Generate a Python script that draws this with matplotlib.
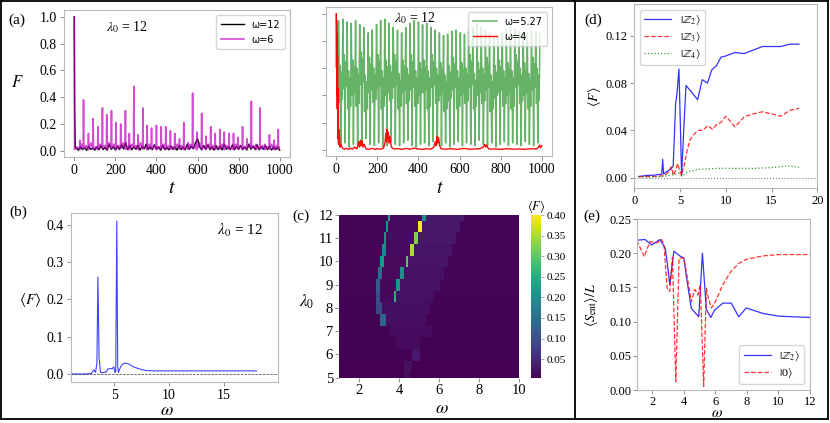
import numpy as np
import matplotlib
matplotlib.use('Agg')
import matplotlib.pyplot as plt
from matplotlib.lines import Line2D

plt.rcParams['font.family'] = ['Liberation Serif', 'DejaVu Serif']
plt.rcParams['mathtext.fontset'] = 'stix'

W, H = 830, 423

# ---------------- data ----------------
# (a) left: omega=6 spikes (magenta) and omega=12 (black)
mag_spike_t = [0, 27, 45, 69, 92, 115, 137, 158, 181, 203, 226, 249, 268, 290, 311, 334, 355, 376, 400, 423,
               445, 468, 489, 512, 533, 555, 576, 597, 620, 641, 664, 686, 709, 730, 753, 775, 796, 819, 840, 862,
               885, 904, 929, 950, 972, 993]
mag_spike_F = [1.0, 0.08, 0.38, 0.13, 0.24, 0.18, 0.32, 0.27, 0.30, 0.21, 0.20, 0.30, 0.13, 0.48, 0.12, 0.32, 0.19, 0.17, 0.19, 0.18,
               0.18, 0.15, 0.13, 0.09, 0.21, 0.06, 0.43, 0.14, 0.28, 0.11, 0.18, 0.13, 0.16, 0.14, 0.13, 0.13, 0.10, 0.18, 0.09, 0.37,
               0.05, 0.32, 0.05, 0.12, 0.08, 0.16]
mag_floor = [0.01, 0.01, 0.02, 0.01, 0.015, 0.01, 0.02, 0.01, 0.015, 0.01, 0.02, 0.012, 0.01, 0.02, 0.01, 0.015, 0.01, 0.012, 0.01, 0.015,
             0.01, 0.012, 0.01, 0.015, 0.01, 0.012, 0.02, 0.01, 0.015, 0.01, 0.012, 0.01, 0.015, 0.01, 0.012, 0.01, 0.015, 0.01, 0.012, 0.02,
             0.01, 0.015, 0.01, 0.012, 0.01, 0.015]
mag_mid = [0.03, 0.05, 0.04, 0.06, 0.03, 0.05, 0.04, 0.06, 0.05, 0.04, 0.06, 0.03, 0.05, 0.04, 0.06, 0.03, 0.05, 0.04, 0.03, 0.05,
           0.04, 0.03, 0.05, 0.04, 0.03, 0.05, 0.04, 0.06, 0.03, 0.05, 0.04, 0.03, 0.05, 0.04, 0.03, 0.05, 0.04, 0.03, 0.05, 0.04,
           0.03, 0.04, 0.03, 0.05, 0.04, 0.03]
blk_t0 = [0, 2, 5]
blk_F0 = [1.0, 0.26, 0.02]
blk_F = [0.02, 0.005, 0.03, 0.01, 0.025, 0.004, 0.035, 0.012, 0.02, 0.006,
         0.03, 0.008, 0.04, 0.01, 0.025, 0.005, 0.05, 0.012, 0.03, 0.007,
         0.035, 0.01, 0.045, 0.015, 0.06, 0.01, 0.04, 0.008, 0.03, 0.012,
         0.04, 0.006, 0.035, 0.015, 0.05, 0.01, 0.03, 0.008, 0.045, 0.012,
         0.03, 0.005, 0.04, 0.01, 0.025, 0.008, 0.035, 0.012, 0.03, 0.006,
         0.04, 0.01, 0.03, 0.008, 0.05, 0.012, 0.035, 0.015, 0.06, 0.09,
         0.03, 0.008, 0.04, 0.012, 0.045, 0.01, 0.03, 0.006, 0.04, 0.01,
         0.035, 0.008, 0.05, 0.012, 0.03, 0.01, 0.045, 0.008, 0.035, 0.012,
         0.04, 0.01, 0.03, 0.006, 0.05, 0.012, 0.035, 0.01, 0.045, 0.008,
         0.03, 0.012, 0.04, 0.01, 0.035, 0.006, 0.03, 0.01, 0.025, 0.005]

# (a) right: omega=5.27 (green) and omega=4 (red)
green_peak_t = [12, 32, 53, 73, 94, 114, 134, 155, 175, 196, 216, 236, 257, 277, 298, 318, 338, 359, 379, 400,
                420, 440, 461, 481, 502, 522, 542, 563, 583, 604, 624, 644, 665, 685, 706, 726, 746, 767, 787, 808,
                828, 848, 869, 889, 910, 930, 950, 971, 991]
green_peak_F = [0.95, 0.96, 0.94, 0.93, 0.95, 0.92, 0.90, 0.86, 0.88, 0.92, 0.95, 0.96, 0.93, 0.90, 0.88, 0.86, 0.90, 0.93, 0.95, 0.94,
                0.92, 0.93, 0.90, 0.88, 0.86, 0.84, 0.85, 0.87, 0.88, 0.86, 0.85, 0.87, 0.90, 0.92, 0.90, 0.88, 0.86, 0.84, 0.83, 0.86,
                0.88, 0.90, 0.89, 0.87, 0.85, 0.86, 0.88, 0.87, 0.86]
green_mid_F = [0.35, 0.45, 0.3, 0.4, 0.32, 0.48, 0.28, 0.42, 0.35, 0.45, 0.3, 0.4, 0.36, 0.46, 0.3, 0.42, 0.34, 0.44, 0.32, 0.4,
               0.42, 0.3, 0.46, 0.34, 0.4, 0.28, 0.36, 0.44, 0.3, 0.4, 0.34, 0.46, 0.3, 0.4, 0.34, 0.44, 0.28, 0.38, 0.42, 0.32,
               0.4, 0.3, 0.46, 0.34, 0.4, 0.3, 0.44, 0.34, 0.4]
green_mid2_F = [0.62, 0.7, 0.58, 0.66, 0.6, 0.72, 0.55, 0.68, 0.6, 0.7, 0.58, 0.66, 0.62, 0.7, 0.56, 0.66, 0.6, 0.7, 0.58, 0.64,
                0.66, 0.58, 0.7, 0.6, 0.64, 0.55, 0.62, 0.68, 0.58, 0.64, 0.6, 0.7, 0.56, 0.64, 0.6, 0.68, 0.55, 0.62, 0.66, 0.58,
                0.64, 0.58, 0.7, 0.6, 0.64, 0.56, 0.68, 0.6, 0.64]
green_trough_F = [0.03, 0.05, 0.02, 0.04, 0.03, 0.06, 0.08, 0.04, 0.03, 0.05, 0.02, 0.03, 0.06, 0.04, 0.03, 0.05, 0.07, 0.03, 0.02, 0.04,
                  0.05, 0.03, 0.06, 0.04, 0.03, 0.05, 0.02, 0.04, 0.06, 0.03, 0.05, 0.04, 0.03, 0.07, 0.04, 0.03, 0.05, 0.02, 0.04, 0.06,
                  0.03, 0.05, 0.04, 0.03, 0.06, 0.04, 0.03, 0.05, 0.04]
red_t = [0, 1, 2, 3, 4, 5, 6, 7, 8, 9, 10, 11, 12, 14, 16, 18, 22, 30, 40, 50, 60, 70, 80, 90, 100,
         106, 110, 114, 118, 122, 126, 130, 136, 145, 160, 175, 190, 200, 215, 230,
         237, 241, 244, 247, 250, 253, 256, 260, 268, 280, 300, 320, 340, 360, 380, 400, 420, 440, 460,
         475, 482, 486, 490, 494, 498, 503, 510, 530, 560, 590, 620, 650, 680, 700,
         715, 722, 727, 732, 737, 745, 770, 800, 830, 860, 890, 920, 950, 975, 985, 990, 995, 1000]
red_F = [1.0, 0.6, 0.95, 0.4, 0.85, 0.3, 0.7, 0.15, 0.45, 0.08, 0.3, 0.04, 0.15, 0.05, 0.09, 0.02, 0.04,
         0.012, 0.004, 0.01, 0.003, 0.012, 0.005, 0.02, 0.006,
         0.03, 0.06, 0.02, 0.07, 0.03, 0.065, 0.02, 0.04, 0.006, 0.004, 0.01, 0.003, 0.008, 0.004, 0.012,
         0.05, 0.12, 0.06, 0.15, 0.08, 0.13, 0.05, 0.1, 0.02, 0.006, 0.008, 0.003, 0.01, 0.004, 0.012, 0.005, 0.003, 0.008, 0.004,
         0.02, 0.06, 0.03, 0.1, 0.05, 0.09, 0.03, 0.008, 0.004, 0.008, 0.003, 0.01, 0.004, 0.006, 0.008,
         0.02, 0.04, 0.02, 0.035, 0.015, 0.005, 0.006, 0.003, 0.008, 0.004, 0.006, 0.003, 0.008, 0.006, 0.02, 0.035, 0.015, 0.03]

# (b) <F> vs omega at lambda0 = 12
b_omega = [1.0, 1.5, 2.0, 2.5, 2.9, 3.1, 3.27, 3.4, 3.49, 3.6, 3.73, 3.9, 4.1, 4.25, 4.4, 4.6, 4.8, 4.95, 5.05, 5.12,
           5.22, 5.3, 5.37, 5.5, 5.67, 5.97, 6.27, 6.72, 7.3, 7.9, 8.5, 10, 12, 14, 16, 18]
b_F = [0.001, 0.0008, 0.0005, 0.001, 0.002, 0.012, 0.005, 0.03, 0.26, 0.043, 0.005, 0.004, 0.005, 0.006, 0.014, 0.015,
       0.015, 0.02, 0.005, 0.006, 0.41, 0.02, 0.005, 0.015, 0.025, 0.03, 0.028, 0.02, 0.014, 0.01, 0.009, 0.009, 0.009, 0.009, 0.009, 0.009]

# (c) heat map <F>(omega, lambda0)
hm_lambda = [5.0, 5.5, 6.0, 6.5, 7.0, 7.5, 8.0, 8.5, 9.0, 9.5, 10.0, 10.5, 11.0, 11.5, 12.0]
hm_omega = np.round(np.arange(1.0, 10.0001, 0.1), 1)
hm_bg = [0.005, 0.006, 0.007, 0.007, 0.008, 0.008, 0.009, 0.009, 0.01, 0.01, 0.01, 0.01, 0.01, 0.01, 0.01]
hm_band_lo = [4.3, 4.3, 4.7, 3.9, 3.6, 3.4, 3.2, 3.9, 4.1, 4.3, 4.5, 4.7, 4.9, 5.2, 5.4]
hm_band_hi = [4.5, 4.6, 5.0, 5.0, 5.6, 5.3, 5.5, 5.7, 6.0, 6.2, 6.4, 6.6, 6.8, 7.0, 7.2]
hm_band_val = [0.02, 0.022, 0.032, 0.017, 0.018, 0.02, 0.02, 0.022, 0.022, 0.024, 0.026, 0.028, 0.03, 0.032, 0.032]
hm_between_val = [None, None, None, None, None, None, None, 0.014, 0.014, 0.015, 0.015, 0.016, 0.016, 0.016, 0.016]
hm_left_lo = [None, None, None, None, None, 3.1, 2.9, 2.9, 2.9, 3.0, 3.1, 3.2, 3.3, 3.4, 3.5]
hm_left_hi = [None, None, None, None, None, 3.3, 3.1, 3.0, 3.0, 3.1, 3.2, 3.3, 3.3, 3.4, 3.5]
hm_left_val = [None, None, None, None, None, 0.13, 0.09, 0.10, 0.12, 0.15, 0.22, 0.19, 0.20, 0.21, 0.24]
hm_right_lo = [None, None, None, None, None, None, None, 3.8, 3.9, 4.1, 4.4, 4.6, 4.8, 5.0, 5.2]
hm_right_hi = [None, None, None, None, None, None, None, 3.8, 4.0, 4.2, 4.4, 4.7, 4.9, 5.1, 5.3]
hm_right_val = [None, None, None, None, None, None, None, 0.26, 0.21, 0.20, 0.30, 0.35, 0.32, 0.40, 0.20]
cbar_ticks = [0.05, 0.10, 0.15, 0.20, 0.25, 0.30, 0.35, 0.40]

# (d) <F> vs omega for several initial states
d_omega_z2 = [0.5, 1.0, 1.5, 2.0, 2.5, 3.0, 3.1, 3.2, 3.5, 4.0, 4.25, 4.52, 4.65, 4.88, 5.17, 5.4, 5.65, 6.2, 6.92,
              7.43, 8.0, 8.45, 9.0, 9.47, 10, 11, 12, 13, 14, 15, 16, 17, 18]
d_F_z2 = [0.001, 0.0015, 0.002, 0.002, 0.0025, 0.003, 0.0155, 0.003, 0.005, 0.007, 0.01, 0.063, 0.07, 0.092, 0.002, 0.04,
          0.078, 0.073, 0.066, 0.083, 0.080, 0.091, 0.095, 0.102, 0.103, 0.106, 0.105, 0.108, 0.111, 0.111, 0.111, 0.113, 0.113]
d_omega_z3 = [0.5, 1, 1.5, 2, 2.5, 3, 3.5, 3.75, 3.97, 4.1, 4.25, 4.5, 4.74, 5.0, 5.17, 5.5, 5.75, 6.08, 6.56, 7, 7.5,
              8, 8.56, 9, 9.5, 10, 11, 12, 13, 14, 15, 16, 17, 18]
d_F_z3 = [0.001, 0.001, 0.001, 0.001, 0.0012, 0.0015, 0.003, 0.005, 0.0085, 0.009, 0.002, 0.006, 0.012, 0.005, 0.002, 0.012,
          0.022, 0.032, 0.037, 0.040, 0.040, 0.044, 0.041, 0.045, 0.047, 0.052, 0.043, 0.0515, 0.054, 0.0558, 0.054, 0.052, 0.057, 0.0586]
d_omega_z4 = [0.5, 1, 2, 3, 3.5, 4, 4.5, 4.9, 5.17, 5.5, 6, 6.5, 7, 7.5, 8, 9, 10, 11, 12, 13, 14, 15, 16, 17, 18]
d_F_z4 = [0.0005, 0.0005, 0.0005, 0.001, 0.0015, 0.002, 0.003, 0.0037, 0.0015, 0.003, 0.0055, 0.006, 0.007, 0.0072, 0.0075,
          0.0078, 0.008, 0.0078, 0.008, 0.0078, 0.0082, 0.0085, 0.0093, 0.010, 0.0087]

# (e) entanglement entropy density
e_omega_z2 = [1.0, 1.53, 1.95, 2.47, 2.8, 2.94, 3.1, 3.36, 3.74, 3.99, 4.2, 4.47, 4.94, 5.17, 5.42, 5.7, 5.95, 6.47,
              7.0, 7.48, 7.95, 9.0, 10.0, 12.0]
e_S_z2 = [0.219, 0.22, 0.212, 0.22, 0.208, 0.186, 0.154, 0.203, 0.196, 0.193, 0.159, 0.119, 0.107, 0.2, 0.118, 0.106,
          0.117, 0.127, 0.127, 0.107, 0.12, 0.112, 0.108, 0.106]
e_omega_0 = [1.0, 1.48, 1.84, 2.26, 2.58, 2.73, 2.94, 3.1, 3.27, 3.48, 3.69, 3.99, 4.2, 4.47, 4.68, 4.89, 5.04, 5.25,
             5.42, 5.57, 5.74, 5.95, 6.47, 7.0, 7.48, 7.95, 9.0, 10.0, 12.0]
e_S_0 = [0.219, 0.195, 0.217, 0.215, 0.22, 0.213, 0.147, 0.144, 0.194, 0.012, 0.193, 0.193, 0.166, 0.129, 0.147, 0.139,
         0.154, 0.005, 0.149, 0.132, 0.12, 0.127, 0.154, 0.174, 0.185, 0.191, 0.196, 0.198, 0.198]

# ---------------- helpers ----------------
fig = plt.figure(figsize=(8.3, 4.23), dpi=100)


def add_ax(l, r, t, b):
    return fig.add_axes([l / W, 1 - b / H, (r - l) / W, (b - t) / H])


def ftxt(x, y, s, **kw):
    kw.setdefault('ha', 'center')
    kw.setdefault('va', 'center')
    fig.text(x / W, 1 - y / H, s, **kw)


def style(ax, size=10, pad=2):
    for s in ax.spines.values():
        s.set_color('#b8b8b8')
        s.set_linewidth(0.8)
    ax.tick_params(direction='out', length=3, width=0.6, color='#808080', labelsize=size, pad=pad)


# ---------------- (a) left ----------------
axa = add_ax(64, 290, 10, 157)
bt = blk_t0 + list(range(10, 1001, 10))
bF = blk_F0 + blk_F
axa.plot(bt, bF, color='k', lw=1.0, label='ω=12')
mt, mF = [], []
for i, (t, h) in enumerate(zip(mag_spike_t, mag_spike_F)):
    if t > 0:
        mt.append(t - 1.5); mF.append(mag_floor[i])
    mt.append(t); mF.append(h)
    mt.append(t + 1.5); mF.append(mag_floor[i])
    nxt = mag_spike_t[i + 1] if i + 1 < len(mag_spike_t) else 1000
    mt.append((t + nxt) / 2); mF.append(mag_mid[i])
axa.plot(mt, mF, color='m', lw=1.2, alpha=0.7, label='ω=6')
style(axa)
axa.set_xticks([0, 200, 400, 600, 800, 1000])
axa.set_yticks([0.0, 0.2, 0.4, 0.6, 0.8, 1.0])
axa.set_yticklabels(['0.0', '0.2', '0.4', '0.6', '0.8', '1.0'])
axa.legend(loc='upper right', prop={'family': 'DejaVu Sans', 'size': 7}, handlelength=2.4,
           borderpad=0.5, labelspacing=0.5, framealpha=0.8)

# ---------------- (a) right ----------------
axa2 = add_ax(326, 552, 7, 156)
gt, gF = [0, 6], [1.0, 0.3]
for i, (tp, hp) in enumerate(zip(green_peak_t, green_peak_F)):
    nxt = green_peak_t[i + 1] if i + 1 < len(green_peak_t) else tp + 20
    gt.append(tp); gF.append(hp)
    if nxt > 1000:
        continue
    seg = [green_mid_F[i], green_mid2_F[i], green_trough_F[i], green_mid2_F[i] - 0.05, green_mid_F[i] + 0.02]
    for k, v in enumerate(seg):
        gt.append(tp + (nxt - tp) * (k + 1) / 6.0)
        gF.append(v)
axa2.plot(gt, gF, color='green', lw=1.1, alpha=0.6, label='ω=5.27')
axa2.plot(red_t, red_F, color='red', lw=1.0, alpha=0.95, label='ω=4')
style(axa2)
axa2.set_ylim(axa.get_ylim())
axa2.set_xticks([0, 200, 400, 600, 800, 1000])
axa2.set_yticks([0.0, 0.2, 0.4, 0.6, 0.8, 1.0])
axa2.set_yticklabels([])
axa2.legend(loc='upper right', prop={'family': 'DejaVu Sans', 'size': 7}, handlelength=2.4,
            borderpad=0.5, labelspacing=0.5, framealpha=0.8)

# ---------------- (b) ----------------
axb = add_ax(70.7, 278.3, 213.3, 381.7)
axb.plot(b_omega, b_F, color='blue', lw=0.8, alpha=0.75)
axb.axhline(0, color='k', ls='--', lw=0.5, alpha=0.8)
style(axb)
axb.set_xlim(1, 20)
axb.set_xticks([5, 10, 15])
axb.set_yticks([0.0, 0.1, 0.2, 0.3, 0.4])
axb.set_yticklabels(['0.0', '0.1', '0.2', '0.3', '0.4'])

# ---------------- (c) ----------------
axc = add_ax(339.3, 519.3, 215, 377.7)
Z = np.zeros((len(hm_lambda), len(hm_omega)))
eps = 1e-6
for i in range(len(hm_lambda)):
    for j, w in enumerate(hm_omega):
        z = hm_bg[i]
        if hm_band_lo[i] - eps <= w <= hm_band_hi[i] + eps:
            z = hm_band_val[i]
        if hm_between_val[i] is not None and hm_left_hi[i] + eps < w < hm_right_lo[i] - eps:
            z = max(z, hm_between_val[i])
        if hm_left_val[i] is not None and hm_left_lo[i] - eps <= w <= hm_left_hi[i] + eps:
            z = hm_left_val[i]
        if hm_right_val[i] is not None and hm_right_lo[i] - eps <= w <= hm_right_hi[i] + eps:
            z = hm_right_val[i]
        Z[i, j] = z
dw = 0.05
dl = 0.25
im = axc.imshow(Z, origin='lower', aspect='auto', cmap='viridis', interpolation='nearest',
                extent=[hm_omega[0] - dw, hm_omega[-1] + dw, hm_lambda[0] - dl, hm_lambda[-1] + dl])
axc.set_xlim(1, 10)
axc.set_ylim(5, 12)
for s in axc.spines.values():
    s.set_visible(False)
axc.tick_params(direction='out', length=3, width=0.6, color='#808080', labelsize=10.5, pad=1.5)
axc.set_xticks([2, 4, 6, 8, 10])
axc.set_yticks([5, 6, 7, 8, 9, 10, 11, 12])
cax = add_ax(530.7, 540.7, 215, 377.7)
cb = fig.colorbar(im, cax=cax, ticks=cbar_ticks)
cb.outline.set_visible(False)
cb.ax.tick_params(labelsize=8, length=2, width=0.5, color='#808080', pad=2)
cb.ax.set_yticklabels(['%.2f' % v for v in cbar_ticks])

# ---------------- (d) ----------------
axd = add_ax(634.3, 817.3, 4, 188.3)
axd.plot(d_omega_z2, d_F_z2, color='blue', lw=0.9, alpha=0.8, label=r'$|\mathbb{Z}_2\rangle$')
axd.plot(d_omega_z3, d_F_z3, color='red', ls='--', lw=0.9, alpha=0.8, label=r'$|\mathbb{Z}_3\rangle$')
axd.plot(d_omega_z4, d_F_z4, color='green', ls=':', lw=0.9, alpha=0.8, label=r'$|\mathbb{Z}_4\rangle$')
axd.axhline(0, color='gray', ls=':', lw=0.8)
style(axd, 9)
axd.set_xlim(0, 20)
axd.set_ylim(-0.009, 0.147)
axd.set_xticks([0, 5, 10, 15, 20])
axd.set_yticks([0.0, 0.04, 0.08, 0.12])
axd.set_yticklabels(['0.00', '0.04', '0.08', '0.12'])
axd.legend(loc='upper left', fontsize=8, handlelength=2.4, borderpad=0.4, labelspacing=0.3, framealpha=0.8)

# ---------------- (e) ----------------
axe = add_ax(636.7, 810, 219, 390)
axe.plot(e_omega_z2, e_S_z2, color='blue', lw=0.9, alpha=0.8, label=r'$|\mathbb{Z}_2\rangle$')
axe.plot(e_omega_0, e_S_0, color='red', ls='--', lw=0.9, alpha=0.8, label=r'$|\mathbb{0}\rangle$')
style(axe, 9, pad=1)
axe.set_xlim(1, 12)
axe.set_ylim(0, 0.25)
axe.set_xticks([2, 4, 6, 8, 10, 12])
axe.set_yticks([0.0, 0.05, 0.10, 0.15, 0.20, 0.25])
axe.set_yticklabels(['0.00', '0.05', '0.10', '0.15', '0.20', '0.25'])
axe.legend(loc='lower right', fontsize=8, handlelength=2.4, borderpad=0.4, labelspacing=0.3, framealpha=0.8)

# ---------------- texts ----------------
ftxt(17, 20, '(a)', fontsize=11)
ftxt(18, 212, '(b)', fontsize=11)
ftxt(301, 216, '(c)', fontsize=11)
ftxt(593, 20, '(d)', fontsize=11)
ftxt(592, 216, '(e)', fontsize=11)
ftxt(127, 27, r'$\lambda_0$ = 12', fontsize=10)
ftxt(415, 18, r'$\lambda_0$ = 12', fontsize=10)
ftxt(240, 230, r'$\lambda_0$ = 12', fontsize=11)
ftxt(17, 83, r'$F$', fontsize=12)
ftxt(172, 188, r'$t$', fontsize=14)
ftxt(440, 188, r'$t$', fontsize=14)
ftxt(30, 300, r'$\langle F\rangle$', fontsize=11)
ftxt(167, 410, r'$\omega$', fontsize=13)
ftxt(307, 302, r'$\lambda_0$', fontsize=12)
ftxt(442, 408, r'$\omega$', fontsize=13)
ftxt(536, 206, r'$\langle F\rangle$', fontsize=9)
ftxt(594, 97, r'$\langle F\rangle$', fontsize=10, rotation=90)
ftxt(591, 305, r'$\langle S_{\rm ent}\rangle/L$', fontsize=10, rotation=90)
ftxt(717, 413, r'$\omega$', fontsize=11)

# ---------------- frame lines ----------------
def fline(x0, y0, x1, y1):
    fig.add_artist(Line2D([x0 / W, x1 / W], [1 - y0 / H, 1 - y1 / H], transform=fig.transFigure,
                          color='k', lw=1.3))

fline(1, 1, 828, 1)
fline(1, 419, 828, 419)
fline(1, 1, 1, 419)
fline(828, 1, 828, 419)
fline(575, 1, 575, 419)

fig.savefig('out.png', dpi=100)
